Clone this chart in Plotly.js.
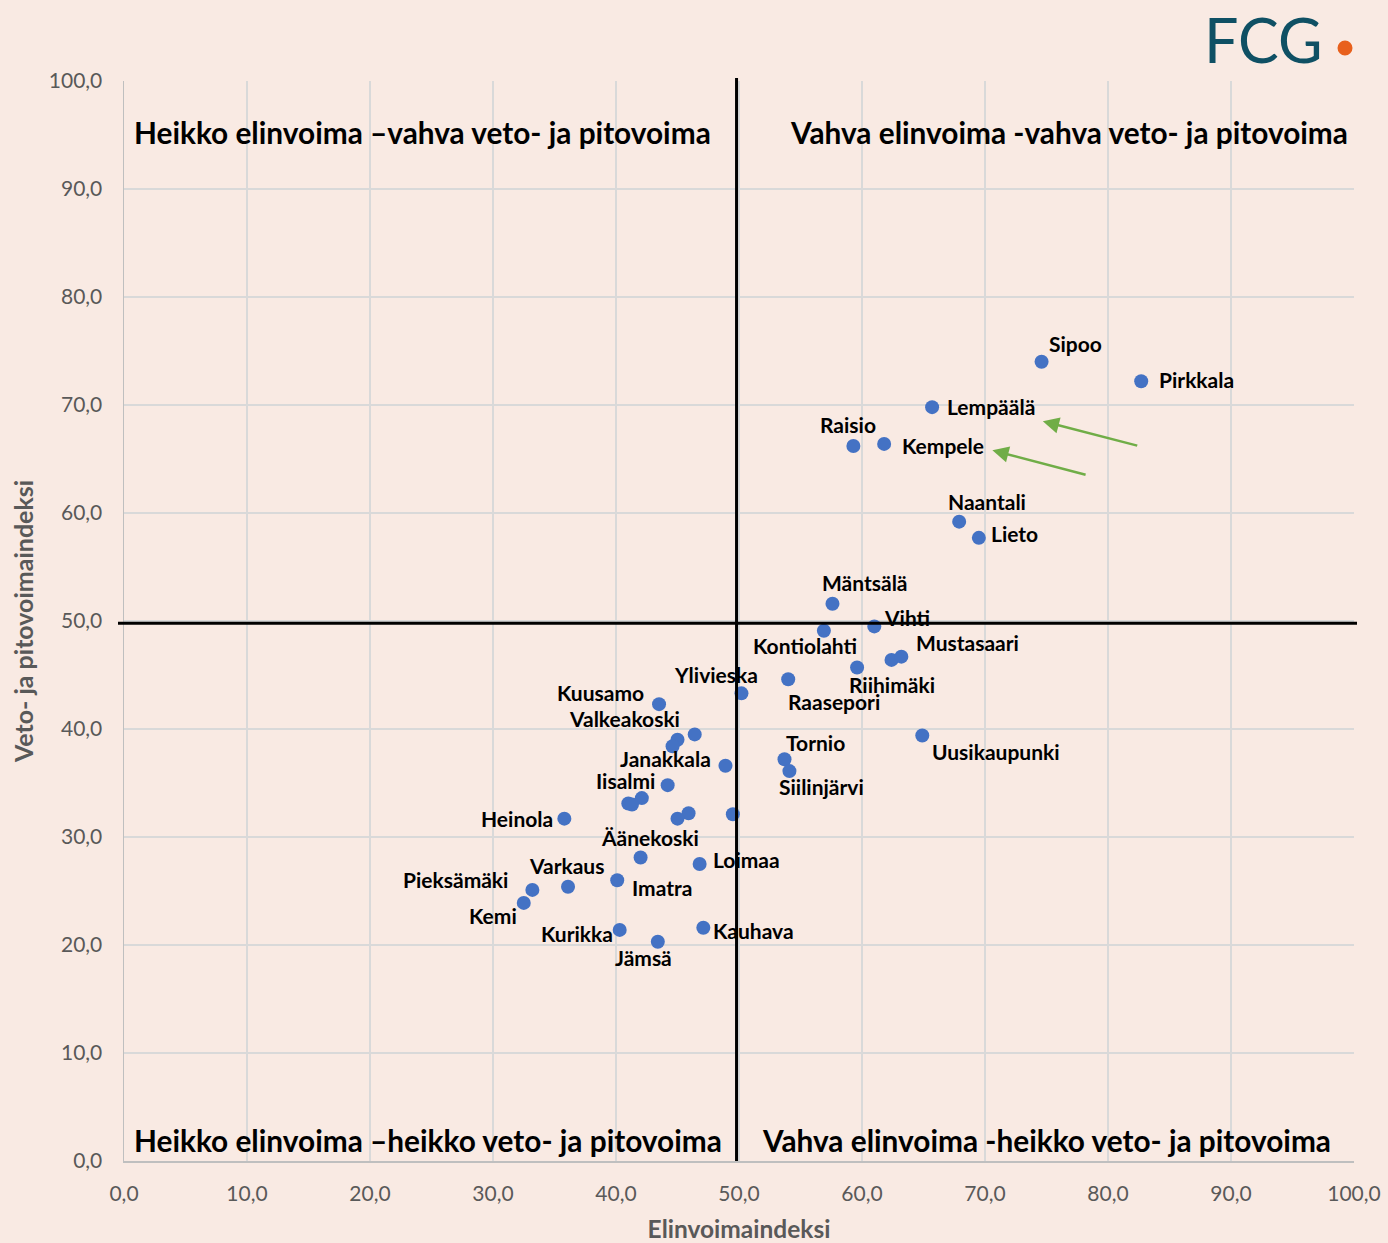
<!DOCTYPE html>
<html>
<head>
<meta charset="utf-8">
<script src="https://cdn.plot.ly/plotly-3.0.1.min.js"></script>
<style>
  html, body { margin: 0; padding: 0; background: #F9EAE3; }
  #chart { width: 1388px; height: 1243px; }
</style>
</head>
<body>
<div id="chart"></div>
<script>
// ---- Data ----
const municipalities = [
  "Sipoo", "Pirkkala", "Lempäälä", "Raisio", "Kempele", "Naantali", "Lieto",
  "Mäntsälä", "Kontiolahti", "Vihti", "Riihimäki_pt", "Riihimäki", "Mustasaari",
  "Uusikaupunki", "Raasepori", "Ylivieska", "Tornio", "Siilinjärvi",
  "Kuusamo", "Valkeakoski", "Valk2", "Valk3", "Janakkala", "Iisalmi",
  "Ii2", "Ii3", "Ii4", "Heinola", "H2", "H3", "H4",
  "Äänekoski", "Loimaa", "Imatra", "Varkaus", "Pieksämäki", "Kemi",
  "Kurikka", "Jämsä", "Kauhava"
];
const elinvoima = [
  74.6, 82.7, 65.7, 59.3, 61.8, 67.9, 69.5,
  57.6, 56.9, 61.0, 59.6, 62.4, 63.2,
  64.9, 54.0, 50.2, 53.7, 54.1,
  43.5, 46.4, 45.0, 44.6, 48.9, 44.2,
  42.1, 41.0, 41.3, 35.8, 45.9, 45.0, 49.5,
  42.0, 46.8, 40.1, 36.1, 33.2, 32.5,
  40.3, 43.4, 47.1
];
const vetovoima = [
  74.0, 72.2, 69.8, 66.2, 66.4, 59.2, 57.7,
  51.6, 49.1, 49.5, 45.7, 46.4, 46.7,
  39.4, 44.6, 43.3, 37.2, 36.1,
  42.3, 39.5, 39.0, 38.4, 36.6, 34.8,
  33.6, 33.1, 33.0, 31.7, 32.2, 31.7, 32.1,
  28.1, 27.5, 26.0, 25.4, 25.1, 23.9,
  21.4, 20.3, 21.6
];
const tickValues = [0, 10, 20, 30, 40, 50, 60, 70, 80, 90, 100];
const quadrantLabels = [
  "Heikko elinvoima –vahva veto- ja pitovoima",
  "Vahva elinvoima -vahva veto- ja pitovoima",
  "Heikko elinvoima –heikko veto- ja pitovoima",
  "Vahva elinvoima -heikko veto- ja pitovoima"
];
const dividerX = 49.8;
const dividerY = 49.8;
const arrowHeads = [[74.7, 68.5], [70.6, 65.8]];
const arrowTails = [[82.5, 66.2], [78.3, 63.5]];

// ---- Label placement (style only) ----
const place = {
  "Sipoo": ["left", 5, 18],
  "Pirkkala": ["left", 16, 2],
  "Lempäälä": ["left", 13, 1],
  "Raisio": ["center", -5, 22],
  "Kempele": ["left", 16, -2],
  "Naantali": ["left", -13, 20],
  "Lieto": ["left", 10, 4],
  "Mäntsälä": ["left", -12, 21],
  "Kontiolahti": ["right", 35, -15],
  "Vihti": ["left", 8, 9],
  "Riihimäki": ["center", 0, -25],
  "Mustasaari": ["left", 13, 14],
  "Uusikaupunki": ["left", 8, -16],
  "Raasepori": ["left", -2, -22],
  "Ylivieska": ["right", 19, 19],
  "Tornio": ["left", -1, 17],
  "Siilinjärvi": ["left", -12, -15],
  "Kuusamo": ["right", -13, 12],
  "Valkeakoski": ["right", -13, 16],
  "Janakkala": ["right", -12, 7],
  "Iisalmi": ["right", -11, 5],
  "Heinola": ["right", -9, 0],
  "Äänekoski": ["center", 9, 20],
  "Loimaa": ["left", 11, 5],
  "Imatra": ["left", 13, -7],
  "Varkaus": ["center", -2, 21],
  "Pieksämäki": ["right", -22, 10],
  "Kemi": ["right", -5, -13],
  "Kurikka": ["right", -5, -4],
  "Jämsä": ["center", -14, -16],
  "Kauhava": ["left", 8, -3]
};

const bg = "#F9EAE3";
const fam = "Lato, 'Liberation Sans', sans-serif";
const labelFont = { family: fam, size: 21, color: "#000000", weight: "bold" };

const trace = {
  type: "scatter",
  mode: "markers",
  x: elinvoima,
  y: vetovoima,
  marker: { color: "#4472C4", size: 14, line: { width: 0 } },
  hoverinfo: "skip",
  cliponaxis: false
};

const xPaper = (px) => (px - 124) / (1354 - 124);
const yPaper = (py) => (1161 - py) / (1161 - 81);

const annotations = [];
municipalities.forEach((name, i) => {
  const p = place[name];
  if (!p) return;
  annotations.push({
    x: elinvoima[i], y: vetovoima[i], xref: "x", yref: "y",
    text: name, showarrow: false,
    xanchor: p[0], yanchor: "middle", xshift: p[1], yshift: p[2],
    font: labelFont
  });
});

// quadrant labels
const qFont = { family: fam, size: 29.8, color: "#000000", weight: "bold" };
const qPos = [
  [xPaper(132), yPaper(132), "left"], [xPaper(1350), yPaper(132), "right"],
  [xPaper(132), yPaper(1140), "left"], [xPaper(1333), yPaper(1140), "right"]
];
quadrantLabels.forEach((t, i) => {
  annotations.push({
    x: qPos[i][0], y: qPos[i][1], xref: "paper", yref: "paper",
    text: t, showarrow: false, xanchor: qPos[i][2], yanchor: "middle", font: qFont
  });
});

// arrows
arrowHeads.forEach((h, i) => {
  annotations.push({
    x: h[0], y: h[1], xref: "x", yref: "y",
    ax: arrowTails[i][0], ay: arrowTails[i][1], axref: "x", ayref: "y",
    text: "", showarrow: true, arrowhead: 2, arrowsize: 1.3, arrowwidth: 2.5,
    arrowcolor: "#70AD47", standoff: 0, startstandoff: 0
  });
});

// FCG logo
annotations.push({
  x: xPaper(1325), y: yPaper(40), xref: "paper", yref: "paper",
  xanchor: "right", yanchor: "middle",
  text: "FCG", showarrow: false,
  font: { family: "Lato, 'Open Sans', sans-serif", size: 61, color: "#0F5064", weight: "normal" }
});

const layout = {
  width: 1388, height: 1243,
  paper_bgcolor: bg, plot_bgcolor: bg,
  separators: ", ",
  showlegend: false,
  margin: { l: 124, r: 34, t: 81, b: 82 },
  font: { family: fam },
  xaxis: {
    range: [0, 100], tickvals: tickValues, tickformat: ".1f",
    showgrid: true, gridcolor: "#D9D9D9", gridwidth: 1.5,
    zeroline: false, showline: true, linecolor: "#BFBFBF", linewidth: 1.5,
    ticks: "", ticklabelstandoff: 13,
    tickfont: { size: 21, color: "#595959" },
    title: { text: "Elinvoimaindeksi", font: { size: 24.5, color: "#595959", weight: "bold" }, standoff: 19 }
  },
  yaxis: {
    range: [0, 100], tickvals: tickValues, tickformat: ".1f",
    showgrid: true, gridcolor: "#D9D9D9", gridwidth: 1.5,
    zeroline: false, showline: true, linecolor: "#BFBFBF", linewidth: 1.5,
    ticks: "", ticklabelstandoff: 16,
    tickfont: { size: 21, color: "#595959" },
    title: { text: "Veto- ja pitovoimaindeksi", font: { size: 25, color: "#595959", weight: "bold" }, standoff: 8 }
  },
  shapes: [
    { type: "line", xref: "x", yref: "paper", x0: dividerX, x1: dividerX, y0: 0, y1: yPaper(78), line: { color: "#000000", width: 3 }, layer: "above" },
    { type: "line", xref: "paper", yref: "y", x0: xPaper(118), x1: xPaper(1357), y0: dividerY, y1: dividerY, line: { color: "#000000", width: 3 }, layer: "above" },
    { type: "circle", xref: "paper", yref: "paper", xsizemode: "pixel", ysizemode: "pixel",
      xanchor: xPaper(1345), yanchor: yPaper(48), x0: -7.5, x1: 7.5, y0: -7.5, y1: 7.5,
      fillcolor: "#E8601C", line: { width: 0 } }
  ],
  annotations: annotations
};

Plotly.newPlot("chart", [trace], layout, { displayModeBar: false, staticPlot: true });
</script>
</body>
</html>
